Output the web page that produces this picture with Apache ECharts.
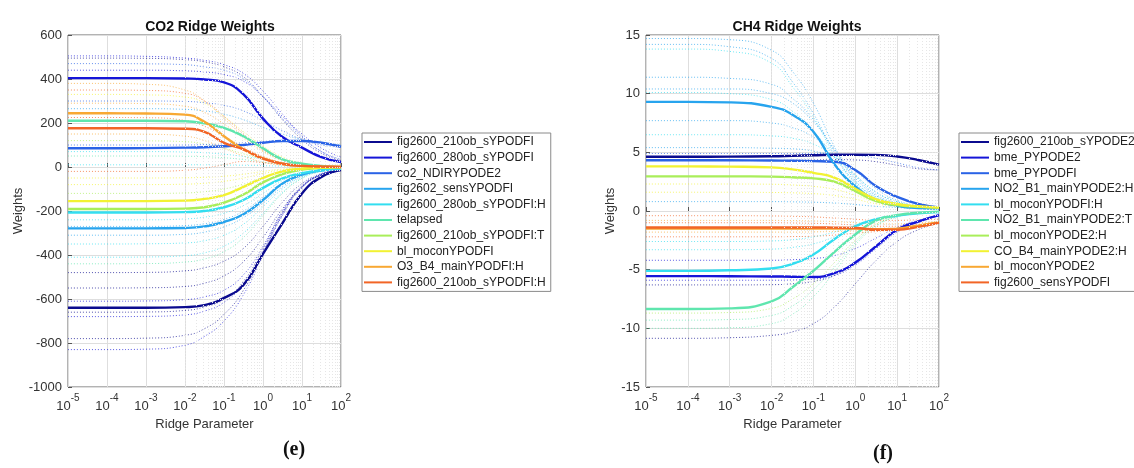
<!DOCTYPE html>
<html>
<head>
<meta charset="utf-8">
<script src="https://cdn.jsdelivr.net/npm/echarts@6/dist/echarts.min.js"></script>
<style>
  html, body { margin: 0; padding: 0; background: #fff; }
  #chart { width: 1134px; height: 468px; }
</style>
</head>
<body>
<div id="chart"></div>
<script>
// ridge parameter sample points (x)
const ridgeParam = [1e-5, 1e-4, 1e-3, 1e-2, 0.0316, 0.1, 0.316, 1, 3.16, 10, 31.6, 100]

// ---- CO2 panel ----
const co2Names = [
  'fig2600_210ob_sYPODFI', 'fig2600_280ob_sYPODFI', 'co2_NDIRYPODE2', 'fig2602_sensYPODFI',
  'fig2600_280ob_sYPODFI:H', 'telapsed', 'fig2600_210ob_sYPODFI:T', 'bl_moconYPODFI',
  'O3_B4_mainYPODFI:H', 'fig2600_210ob_sYPODFI:H'
]
const co2Weights = [
  [-640, -640, -640, -637, -628, -595, -536, -395, -255, -120, -45, -14],
  [404, 404, 404, 402, 398, 385, 330, 220, 136, 88, 45, 22],
  [85, 85, 86, 88, 90, 94, 100, 110, 118, 118, 110, 92],
  [-279, -279, -279, -277, -270, -250, -215, -150, -75, -35, -15, -8],
  [-207, -207, -207, -205, -200, -183, -150, -95, -52, -28, -15, -8],
  [210, 210, 210, 208, 198, 178, 140, 85, 35, 15, 5, 0],
  [-191, -191, -191, -189, -183, -162, -125, -70, -32, -12, -4, -1],
  [-155, -155, -155, -153, -145, -128, -90, -50, -20, -8, -3, 0],
  [244, 244, 243, 238, 205, 140, 80, 40, 15, 5, 2, 0],
  [176, 176, 176, 174, 160, 110, 80, 38, 15, 5, 2, 0]
]
// remaining (unlabelled) predictors
const co2Others = [
  [505, 505, 503, 495, 485, 465, 425, 345, 240, 140, 70, 30],
  [495, 495, 494, 488, 478, 455, 410, 320, 215, 125, 62, 28],
  [470, 470, 469, 465, 455, 440, 400, 320, 220, 135, 70, 35],
  [440, 440, 440, 437, 432, 420, 390, 320, 230, 150, 85, 45],
  [380, 380, 376, 350, 300, 220, 140, 75, 32, 12, 4, 1],
  [350, 350, 348, 335, 300, 230, 150, 80, 35, 12, 4, 1],
  [330, 330, 328, 318, 290, 230, 160, 95, 45, 18, 6, 2],
  [300, 300, 300, 298, 292, 280, 255, 210, 165, 125, 100, 90],
  [290, 290, 288, 276, 248, 196, 130, 70, 30, 10, 3, 1],
  [265, 265, 265, 262, 255, 240, 215, 180, 150, 125, 110, 100],
  [225, 225, 224, 212, 185, 140, 90, 48, 20, 7, 2, 0],
  [150, 150, 149, 140, 120, 85, 50, 22, 8, 3, 1, 0],
  [120, 120, 119, 115, 105, 85, 60, 35, 15, 5, 2, 0],
  [100, 100, 100, 100, 102, 105, 110, 116, 120, 118, 112, 100],
  [70, 70, 70, 68, 65, 58, 48, 35, 20, 10, 4, 1],
  [50, 50, 50, 49, 47, 42, 34, 22, 11, 4, 1, 0],
  [10, 10, 10, 10, 10, 9, 8, 6, 4, 2, 1, 0],
  [-20, -20, -20, -15, -5, 10, 25, 20, 10, 3, 1, 0],
  [-50, -50, -50, -49, -47, -42, -33, -20, -9, -3, -1, 0],
  [-80, -80, -80, -78, -74, -65, -50, -30, -13, -5, -2, 0],
  [-120, -120, -120, -118, -112, -100, -78, -48, -22, -8, -3, -1],
  [-240, -240, -240, -236, -228, -210, -175, -120, -62, -28, -12, -5],
  [-270, -270, -270, -266, -258, -238, -200, -138, -72, -32, -13, -6],
  [-310, -310, -310, -306, -296, -272, -230, -165, -90, -42, -18, -8],
  [-350, -350, -349, -345, -335, -310, -260, -180, -100, -45, -18, -8],
  [-410, -410, -409, -403, -390, -360, -300, -210, -115, -50, -20, -8],
  [-440, -440, -439, -432, -418, -385, -320, -220, -120, -52, -20, -8],
  [-480, -480, -479, -472, -458, -428, -370, -270, -160, -75, -30, -12],
  [-550, -550, -549, -543, -528, -495, -430, -320, -190, -90, -35, -12],
  [-610, -610, -609, -603, -590, -560, -490, -360, -200, -85, -32, -12],
  [-660, -660, -659, -652, -636, -600, -520, -370, -205, -90, -35, -12],
  [-680, -680, -679, -672, -655, -615, -530, -380, -210, -92, -35, -12],
  [-780, -780, -778, -765, -735, -670, -560, -390, -215, -90, -33, -12],
  [-830, -830, -828, -810, -770, -700, -580, -400, -220, -95, -35, -12]
]

// ---- CH4 panel ----
const ch4Names = [
  'fig2600_210ob_sYPODE2', 'bme_PYPODE2', 'bme_PYPODFI', 'NO2_B1_mainYPODE2:H',
  'bl_moconYPODFI:H', 'NO2_B1_mainYPODE2:T', 'bl_moconYPODE2:H', 'CO_B4_mainYPODE2:H',
  'bl_moconYPODE2', 'fig2600_sensYPODFI'
]
const ch4Weights = [
  [4.62, 4.62, 4.63, 4.66, 4.7, 4.75, 4.8, 4.8, 4.78, 4.65, 4.35, 3.95],
  [-5.55, -5.55, -5.56, -5.58, -5.6, -5.62, -5.3, -4.4, -3.0, -1.6, -0.9, -0.35],
  [4.33, 4.33, 4.32, 4.3, 4.28, 4.25, 4.2, 3.5, 2.1, 1.2, 0.6, 0.3],
  [9.3, 9.3, 9.26, 8.88, 8.2, 6.75, 4.0, 2.1, 0.92, 0.45, 0.25, 0.2],
  [-5.1, -5.1, -5.05, -4.9, -4.5, -3.7, -2.4, -1.3, -0.7, -0.4, -0.2, -0.1],
  [-8.35, -8.35, -8.3, -7.7, -6.5, -5.1, -3.5, -2.0, -0.8, -0.35, -0.15, -0.05],
  [2.95, 2.95, 2.95, 2.93, 2.88, 2.78, 2.5, 1.7, 0.85, 0.5, 0.35, 0.3],
  [3.8, 3.8, 3.78, 3.72, 3.55, 3.25, 2.85, 1.9, 1.0, 0.6, 0.4, 0.3],
  [-1.5, -1.5, -1.5, -1.5, -1.5, -1.5, -1.5, -1.5, -1.55, -1.5, -1.25, -0.95],
  [-1.4, -1.4, -1.4, -1.4, -1.4, -1.4, -1.42, -1.45, -1.6, -1.6, -1.35, -1.0]
]
const ch4Others = [
  [14.7, 14.7, 14.6, 13.7, 11.9, 9.2, 5.5, 2.6, 1.1, 0.5, 0.3, 0.2],
  [14.2, 14.2, 14.0, 13.0, 11.0, 8.3, 5.0, 2.4, 1.0, 0.5, 0.3, 0.2],
  [13.8, 13.8, 13.6, 12.6, 10.6, 8.0, 4.8, 2.3, 1.0, 0.5, 0.3, 0.2],
  [11.4, 11.4, 11.3, 10.8, 9.6, 7.8, 5.2, 2.8, 1.3, 0.6, 0.3, 0.2],
  [10.4, 10.4, 10.4, 10.0, 9.2, 7.6, 5.3, 3.0, 1.4, 0.7, 0.4, 0.3],
  [10.1, 10.1, 10.0, 9.5, 8.5, 6.8, 4.6, 2.5, 1.2, 0.6, 0.3, 0.2],
  [7.7, 7.7, 7.7, 7.5, 7.1, 6.3, 4.9, 3.1, 1.6, 0.8, 0.4, 0.3],
  [6.5, 6.5, 6.5, 6.4, 6.2, 5.7, 4.6, 3.0, 1.6, 0.8, 0.4, 0.3],
  [5.4, 5.4, 5.4, 5.35, 5.3, 5.1, 4.6, 3.4, 1.9, 0.9, 0.5, 0.3],
  [4.9, 4.9, 4.9, 4.9, 4.9, 4.9, 4.85, 4.75, 4.5, 4.1, 3.7, 3.5],
  [4.3, 4.3, 4.3, 4.3, 4.32, 4.35, 4.38, 4.35, 4.2, 3.9, 3.6, 3.5],
  [2.3, 2.3, 2.3, 2.28, 2.22, 2.1, 1.85, 1.35, 0.8, 0.45, 0.3, 0.25],
  [1.6, 1.6, 1.6, 1.58, 1.55, 1.48, 1.32, 1.0, 0.62, 0.38, 0.27, 0.22],
  [0.8, 0.8, 0.8, 0.8, 0.78, 0.75, 0.68, 0.55, 0.4, 0.3, 0.22, 0.2],
  [-0.4, -0.4, -0.4, -0.42, -0.45, -0.5, -0.6, -0.7, -0.8, -0.8, -0.75, -0.7],
  [-0.8, -0.8, -0.8, -0.8, -0.82, -0.85, -0.9, -1.0, -1.1, -1.1, -1.0, -0.9],
  [-1.0, -1.0, -1.0, -1.0, -1.02, -1.05, -1.1, -1.2, -1.3, -1.3, -1.15, -0.95],
  [-1.8, -1.8, -1.8, -1.8, -1.8, -1.78, -1.75, -1.7, -1.65, -1.55, -1.3, -1.05],
  [-2.2, -2.2, -2.2, -2.2, -2.18, -2.15, -2.05, -1.9, -1.75, -1.55, -1.3, -1.05],
  [-2.6, -2.6, -2.6, -2.55, -2.45, -2.2, -1.8, -1.2, -0.7, -0.4, -0.2, -0.1],
  [-3.3, -3.3, -3.3, -3.25, -3.1, -2.8, -2.2, -1.4, -0.75, -0.4, -0.2, -0.1],
  [-4.2, -4.2, -4.2, -4.2, -4.15, -4.05, -3.8, -3.2, -2.3, -1.4, -0.8, -0.4],
  [-5.9, -5.9, -5.9, -5.9, -5.88, -5.8, -5.5, -4.6, -3.2, -1.8, -1.0, -0.4],
  [-6.3, -6.3, -6.3, -6.28, -6.2, -6.0, -5.5, -4.4, -2.9, -1.6, -0.9, -0.4],
  [-8.7, -8.7, -8.65, -8.3, -7.5, -6.2, -4.4, -2.5, -1.1, -0.45, -0.2, -0.05],
  [-9.3, -9.3, -9.25, -8.9, -8.1, -6.7, -4.8, -2.7, -1.2, -0.5, -0.2, -0.05],
  [-10.0, -10.0, -9.95, -9.6, -8.8, -7.3, -5.2, -2.9, -1.3, -0.5, -0.2, -0.05],
  [-10.85, -10.85, -10.8, -10.6, -10.3, -9.6, -8.2, -6.2, -4.2, -2.6, -1.6, -1.0]
]

// jet-like palette used by both panels
const jet = ['#0b0b8f', '#1515d8', '#2a63e6', '#27a4ee', '#33def0',
             '#5fe6ae', '#a9ee5a', '#f2f232', '#f8a833', '#f26526']
// palette index for the unlabelled traces
const co2OtherHue = [1, 0, 2, 1, 8, 9, 7, 2, 8, 3, 9, 8, 6, 2, 4, 5, 4, 9, 7, 7, 6,
                     4, 3, 3, 4, 4, 5, 0, 0, 1, 0, 1, 0, 1]
const ch4OtherHue = [3, 3, 4, 3, 3, 4, 3, 4, 3, 2, 0, 7, 7, 3, 9, 8, 9, 8, 9, 4, 4,
                     1, 1, 0, 6, 5, 5, 0]

const font = 'Liberation Sans, Arial, sans-serif'
const minorX = []
for (let d = -5; d < 2; d++) {
  for (let m = 2; m <= 9; m++) minorX.push(m * Math.pow(10, d))
}

function trace(name, vals, color, gi, main) {
  return {
    type: 'line',
    name: name,
    xAxisIndex: gi,
    yAxisIndex: gi,
    data: ridgeParam.map((x, i) => [x, vals[i]]),
    smooth: 0.5,
    symbol: 'none',
    silent: !main,
    z: main ? 4 : 3,
    itemStyle: { color: color },
    lineStyle: main
      ? { color: color, width: 2.4 }
      : { color: color, width: 1, type: [1, 2], opacity: 0.7 },
    emphasis: { disabled: true }
  }
}

function minorGrid(gi) {
  return {
    type: 'line',
    xAxisIndex: gi,
    yAxisIndex: gi,
    data: [],
    silent: true,
    z: 1,
    markLine: {
      silent: true,
      symbol: 'none',
      label: { show: false },
      animation: false,
      lineStyle: { color: '#e6e6e6', type: [1, 2], width: 1 },
      data: minorX.map(v => ({ xAxis: v }))
    }
  }
}

const series = [minorGrid(0), minorGrid(1)]
co2Others.forEach((v, i) => series.push(trace('co2_other_' + i, v, jet[co2OtherHue[i]], 0, false)))
ch4Others.forEach((v, i) => series.push(trace('ch4_other_' + i, v, jet[ch4OtherHue[i]], 1, false)))
co2Weights.forEach((v, i) => series.push(trace(co2Names[i], v, jet[i], 0, true)))
ch4Weights.forEach((v, i) => series.push(trace(ch4Names[i], v, jet[i], 1, true)))

function xAxis(gi) {
  return {
    type: 'log',
    logBase: 10,
    gridIndex: gi,
    min: 1e-5,
    max: 100,
    name: 'Ridge Parameter',
    nameLocation: 'middle',
    nameGap: 28,
    nameTextStyle: { fontFamily: font, fontSize: 13, color: '#333' },
    axisLine: { show: false },
    axisTick: { inside: true, length: 4, lineStyle: { color: '#555' } },
    axisLabel: {
      margin: 6,
      formatter: v => '{b|10}{s|' + Math.round(Math.log10(v)) + '}',
      rich: {
        b: { fontFamily: font, fontSize: 13, color: '#333', lineHeight: 20, verticalAlign: 'bottom' },
        s: { fontFamily: font, fontSize: 10, color: '#333', verticalAlign: 'top' }
      }
    },
    splitLine: { show: true, lineStyle: { color: '#dedede', width: 1 } }
  }
}

function yAxis(gi, min, max, step, gap) {
  return {
    type: 'value',
    gridIndex: gi,
    min: min,
    max: max,
    interval: step,
    name: 'Weights',
    nameLocation: 'middle',
    nameGap: gap,
    nameTextStyle: { fontFamily: font, fontSize: 13, color: '#333' },
    axisLine: { show: false },
    axisTick: { show: true, inside: true, length: 4, lineStyle: { color: '#555' } },
    axisLabel: { fontFamily: font, fontSize: 13, color: '#333', margin: 6, formatter: v => String(v) },
    splitLine: { show: true, lineStyle: { color: '#dedede', width: 1 } }
  }
}

function legend(names, left) {
  return {
    data: names,
    orient: 'vertical',
    left: left,
    top: 133,
    icon: 'rect',
    itemWidth: 28,
    itemHeight: 2,
    itemGap: 1.6,
    padding: [2, 5, 2, 2],
    borderColor: '#8a8a8a',
    borderWidth: 1,
    backgroundColor: '#fff',
    selectedMode: false,
    textStyle: { fontFamily: font, fontSize: 12, color: '#222', lineHeight: 14 }
  }
}

const chart = echarts.init(document.getElementById('chart'), null, { renderer: 'canvas' })

chart.setOption({
  backgroundColor: '#fff',
  animation: false,
  title: [
    { text: 'CO2 Ridge Weights', left: 205, top: 15, textAlign: 'center',
      textStyle: { fontFamily: font, fontSize: 14, fontWeight: 'bold', color: '#111' } },
    { text: 'CH4 Ridge Weights', left: 792, top: 15, textAlign: 'center',
      textStyle: { fontFamily: font, fontSize: 14, fontWeight: 'bold', color: '#111' } },
    { text: '({e|e})', left: 289, top: 435, textAlign: 'center',
      textStyle: { fontFamily: 'Liberation Serif, serif', fontSize: 20, color: '#111',
        rich: { e: { fontFamily: 'Liberation Serif, serif', fontSize: 20, fontWeight: 'bold', color: '#111' } } } },
    { text: '({f|f})', left: 878, top: 439, textAlign: 'center',
      textStyle: { fontFamily: 'Liberation Serif, serif', fontSize: 20, color: '#111',
        rich: { f: { fontFamily: 'Liberation Serif, serif', fontSize: 20, fontWeight: 'bold', color: '#111' } } } }
  ],
  legend: [legend(co2Names, 362), legend(ch4Names, 959)],
  grid: [
    { left: 68, top: 35, width: 273, height: 352, show: true, borderColor: '#666', borderWidth: 1, backgroundColor: '#fff' },
    { left: 646, top: 35, width: 293, height: 352, show: true, borderColor: '#666', borderWidth: 1, backgroundColor: '#fff' }
  ],
  xAxis: [xAxis(0), xAxis(1)],
  yAxis: [yAxis(0, -1000, 600, 200, 40), yAxis(1, -15, 15, 5, 29)],
  series: series
})
</script>
</body>
</html>
